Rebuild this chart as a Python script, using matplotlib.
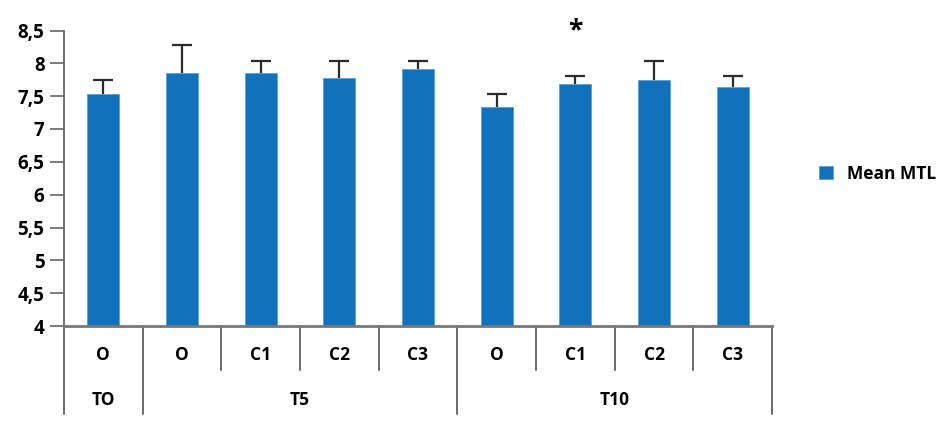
import matplotlib.pyplot as plt

# values
labels = ['O', 'O', 'C1', 'C2', 'C3', 'O', 'C1', 'C2', 'C3']
groups = ['TO', 'T5', 'T10']
group_sizes = [1, 4, 4]
mean_mtl = [7.54, 7.85, 7.85, 7.77, 7.92, 7.34, 7.68, 7.74, 7.64]
err_up = [0.21, 0.43, 0.19, 0.26, 0.12, 0.19, 0.13, 0.29, 0.17]
star_index = 6

plt.rcParams['font.family'] = ['Open Sans', 'DejaVu Sans']
plt.rcParams['font.weight'] = 'bold'

fig = plt.figure(figsize=(9.46, 4.32), dpi=100)
ax = fig.add_axes([64 / 946, 106 / 432, 708 / 946, 295.5 / 432])

blue = '#1172bb'
x = list(range(len(labels)))
ax.bar(x, [v - 4 for v in mean_mtl], bottom=4, width=0.41, color=blue,
       edgecolor='#5aa0d8', linewidth=0.6, label='Mean MTL')
eb = ax.errorbar(x, mean_mtl, yerr=[[0] * len(err_up), err_up], fmt='none',
                 ecolor='#2b2b2b', elinewidth=1.6, capsize=7.5, capthick=1.6)
# only the upper cap is drawn in the original
eb[1][0].set_visible(False)

ax.text(star_index, 8.49, '*', ha='center', va='center', fontsize=19,
        fontweight='bold', clip_on=False)

ax.set_xlim(-0.5, len(labels) - 0.5)
ax.set_ylim(4, 8.5)
ax.set_yticks([4 + 0.5 * i for i in range(10)])
ax.set_yticklabels(['4', '4,5', '5', '5,5', '6', '6,5', '7', '7,5', '8', '8,5'])
ax.tick_params(axis='y', length=10, width=1.2, color='#666666', labelsize=13.5, pad=4)
ax.set_xticks([])
for s in ['top', 'right']:
    ax.spines[s].set_visible(False)
ax.spines['left'].set_color('#666666')
ax.spines['left'].set_linewidth(1.3)
ax.spines['bottom'].set_color('#777777')
ax.spines['bottom'].set_linewidth(2)

# hierarchical category axis
trans = ax.get_xaxis_transform()
px = 1 / 295.5
short_y = -44 * px
long_y = -88 * px
for i, lab in enumerate(labels):
    ax.text(i, -29 * px, lab, transform=trans, ha='center', va='center', fontsize=12.5)

bounds = [0]
for n in group_sizes:
    bounds.append(bounds[-1] + n)
start = 0
for g, n in zip(groups, group_sizes):
    mid = start + (n - 1) / 2
    ax.text(mid, -74 * px, g, transform=trans, ha='center', va='center', fontsize=12.5)
    start += n
for b in range(len(labels) + 1):
    y_end = long_y if b in bounds else short_y
    ax.plot([b - 0.5, b - 0.5], [0, y_end], transform=trans, color='#444444',
            lw=1.1, clip_on=False)

ax.legend(loc='center left', bbox_to_anchor=(1.045, 0.515), frameon=False,
          fontsize=12.5, handlelength=0.8, handleheight=0.8, handletextpad=0.8)

fig.savefig('out.png', dpi=100)
